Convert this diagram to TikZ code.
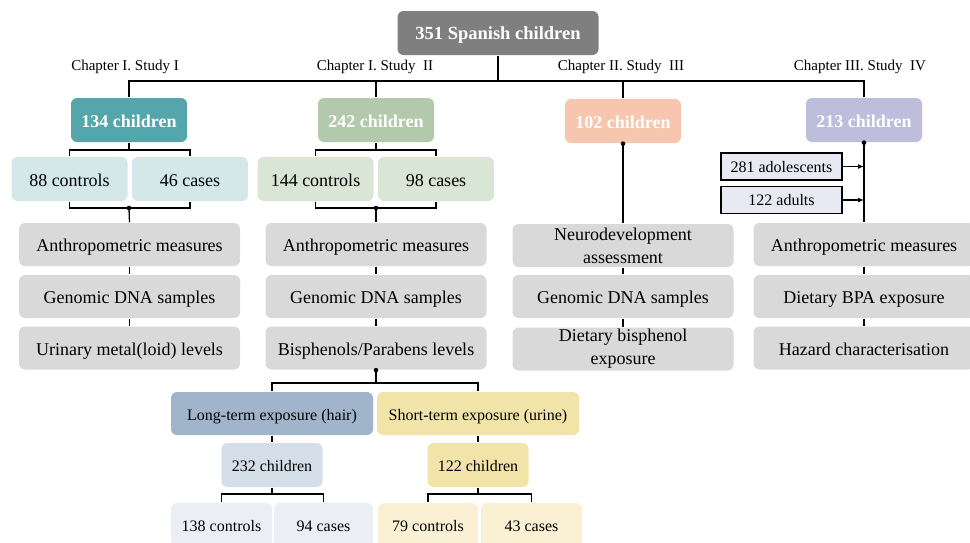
\documentclass[tikz,border=0pt]{standalone}
\usepackage{fontspec}
\setmainfont{Liberation Serif}
\usetikzlibrary{arrows.meta}

\definecolor{rootgray}{HTML}{7F7F7F}
\definecolor{tealc}{HTML}{55A6AB}
\definecolor{sagec}{HTML}{B3C9AC}
\definecolor{peachc}{HTML}{F6C7AE}
\definecolor{lilacc}{HTML}{BEBDDC}
\definecolor{tealpale}{HTML}{D4E8EA}
\definecolor{sagepale}{HTML}{D9E5D5}
\definecolor{boxgray}{HTML}{D9D9D9}
\definecolor{lilacpale}{HTML}{E9E9F3}
\definecolor{hairc}{HTML}{A0B5CB}
\definecolor{hairmid}{HTML}{D4DEE8}
\definecolor{hairpale}{HTML}{EBEFF4}
\definecolor{urinec}{HTML}{F2E4A9}
\definecolor{urinepale}{HTML}{FAF1D4}

\newcommand\fsbig{\fontsize{18}{23}\selectfont}
\newcommand\fsmid{\fontsize{16}{19}\selectfont}

\tikzset{
  rootbox/.style={rounded corners=6pt, fill=rootgray, text=white, inner sep=0pt,
    font=\bfseries\fontsize{18.5}{22}\selectfont, text height=13pt, text depth=0pt,
    minimum width=201pt, minimum height=44pt},
  groupbox/.style={rounded corners=6pt, text=white, inner sep=0pt,
    font=\bfseries\fsbig, text height=14pt, text depth=0pt,
    minimum width=116pt, minimum height=44pt},
  subbox/.style={rounded corners=6pt, inner sep=0pt, font=\fsbig,
    text height=14pt, text depth=0pt, minimum width=116pt, minimum height=44pt},
  measbox/.style={rounded corners=6pt, fill=boxgray, inner sep=0pt, font=\fsbig,
    align=center, minimum width=221pt, minimum height=43pt},
  measline/.style={measbox, text height=14pt, text depth=0pt},
  agebox/.style={draw, line width=1.2pt, fill=lilacpale, inner sep=0pt, font=\fsmid,
    text height=11.5pt, text depth=0pt, minimum width=121pt, minimum height=27pt},
  expbox/.style={rounded corners=6pt, inner sep=0pt, font=\fsmid,
    text height=13pt, text depth=0pt, minimum width=202pt, minimum height=43pt},
  smallbox/.style={rounded corners=6pt, inner sep=0pt, font=\fsmid,
    text height=13pt, text depth=0pt, minimum width=101pt, minimum height=44pt},
  chaplabel/.style={inner sep=0pt, font=\fontsize{15}{18}\selectfont},
}

\begin{document}
\begin{tikzpicture}[x=1pt, y=-1pt, line width=1.3pt]
\useasboundingbox (0,0) rectangle (970,542);
\clip (0,0) rectangle (970,542);

% root and chapter labels
\node[rootbox] (root) at (498,33) {351 Spanish children};
\node[chaplabel] (ch1) at (125,67) {Chapter I. Study I};
\node[chaplabel] (ch2) at (375,67) {Chapter I. Study\ \ II};
\node[chaplabel] (ch3) at (621,67) {Chapter II. Study\ \ III};
\node[chaplabel] (ch4) at (860,67) {Chapter III. Study\ \ IV};

% study groups
\node[groupbox, fill=tealc] (g134) at (129,120) {134 children};
\node[groupbox, fill=sagec] (g242) at (376,120) {242 children};
\node[groupbox, fill=peachc] (g102) at (623,121) {102 children};
\node[groupbox, fill=lilacc] (g213) at (864,120) {213 children};

\coordinate (hub) at (498,81);
\draw (root.south) -- (hub);
\foreach \g in {g134,g242,g102,g213}
  \draw (\g.north) |- (hub);

% controls and cases
\node[subbox, fill=tealpale] (c88) at (69.5,179) {88 controls};
\node[subbox, fill=tealpale] (c46) at (190,179) {46 cases};
\node[subbox, fill=sagepale] (c144) at (315.5,179) {144 controls};
\node[subbox, fill=sagepale] (c98) at (436,179) {98 cases};

\coordinate (b134) at (129,150);
\draw (g134.south) -- (b134);
\draw (c88.north) |- (b134) -| (c46.north);
\coordinate (b242) at (376,150);
\draw (g242.south) -- (b242);
\draw (c144.north) |- (b242) -| (c98.north);

% adolescents and adults
\node[agebox] (adol) at (781.5,166.5) {281 adolescents};
\node[agebox] (adul) at (781.5,200) {122 adults};

% measures, study I
\node[measline] (am1) at (129.5,244.5) {Anthropometric measures};
\node[measline] (gd1) at (129.5,296.5) {Genomic DNA samples};
\node[measline] (um1) at (129.5,348) {Urinary metal(loid) levels};
% measures, study II
\node[measline] (am2) at (376,244.5) {Anthropometric measures};
\node[measline] (gd2) at (376,296.5) {Genomic DNA samples};
\node[measline] (bp2) at (376,348) {Bisphenols/Parabens levels};
% measures, study III
\node[measbox] (nd3) at (623,245.5) {Neurodevelopment\\assessment};
\node[measline] (gd3) at (623,296.5) {Genomic DNA samples};
\node[measbox] (db3) at (623,349) {Dietary bisphenol\\exposure};
% measures, study IV
\node[measline] (am4) at (864,244.5) {Anthropometric measures};
\node[measline] (bpa4) at (864,296.5) {Dietary BPA exposure};
\node[measline] (hz4) at (864,348) {Hazard characterisation};

\coordinate (j134) at (129,208);
\draw (c88.south) |- (j134) -| (c46.south);
\draw (j134) -- (am1.north);
\fill (j134) circle (2.3pt);
\coordinate (j242) at (376,208);
\draw (c144.south) |- (j242) -| (c98.south);
\draw (j242) -- (am2.north);
\fill (j242) circle (2.3pt);

\draw (g102.south) -- (nd3.north);
\fill (g102.south) circle (2.3pt);
\draw (g213.south) -- (am4.north);
\fill (g213.south) circle (2.3pt);
\draw[-{Latex[length=6pt,width=5pt]}] (adol.east) -- (adol.east -| g213.south);
\draw[-{Latex[length=6pt,width=5pt]}] (adul.east) -- (adul.east -| g213.south);

\draw (am1) -- (gd1) -- (um1);
\draw (am2) -- (gd2) -- (bp2);
\draw (nd3) -- (gd3) -- (db3);
\draw (am4) -- (bpa4) -- (hz4);

% hair and urine exposure
\node[expbox, fill=hairc] (lt) at (272,413.5) {Long-term exposure (hair)};
\node[expbox, fill=urinec] (st) at (478,413.5) {Short-term exposure (urine)};
\coordinate (bexp) at (376,383);
\draw (bp2.south) -- (bexp);
\draw (lt.north) |- (bexp) -| (st.north);
\fill (bp2.south) circle (2.3pt);

\node[smallbox, fill=hairmid] (c232) at (272,465) {232 children};
\node[smallbox, fill=urinec] (c122) at (478,465) {122 children};
\draw (lt) -- (c232);
\draw (st) -- (c122);

\node[smallbox, fill=hairpale] (c138) at (221.5,525) {138 controls};
\node[smallbox, fill=hairpale, minimum width=99pt] (c94) at (323.5,525) {94 cases};
\node[smallbox, fill=urinepale, minimum width=100pt] (c79) at (428,525) {79 controls};
\node[smallbox, fill=urinepale] (c43) at (531.5,525) {43 cases};

\coordinate (b232) at (272,494);
\draw (c232.south) -- (b232);
\draw (c138.north) |- (b232) -| (c94.north);
\coordinate (b122) at (478,494);
\draw (c122.south) -- (b122);
\draw (c79.north) |- (b122) -| (c43.north);
\end{tikzpicture}
\end{document}
